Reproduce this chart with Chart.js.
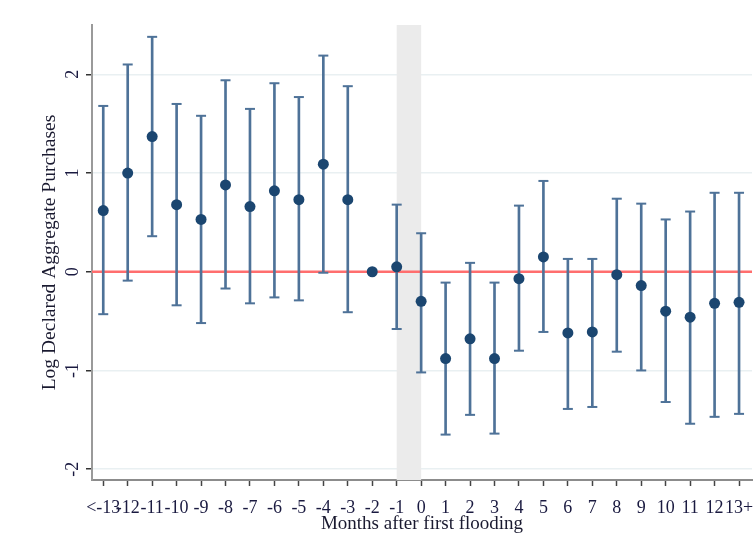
<!DOCTYPE html>
<html>
<head>
<meta charset="utf-8">
<script src="https://cdn.jsdelivr.net/npm/chart.js@4/dist/chart.umd.min.js"></script>
<style>
  html, body { margin: 0; padding: 0; background: #ffffff; }
  #wrap { position: relative; width: 756px; height: 552px; }
</style>
</head>
<body>
<div id="wrap"><canvas id="c" width="756" height="552"></canvas></div>
<script>
// ---- data ----
const monthLabels = ["<-13","-12","-11","-10","-9","-8","-7","-6","-5","-4","-3","-2","-1",
                     "0","1","2","3","4","5","6","7","8","9","10","11","12","13+"];
const estimates = [0.62, 1.00, 1.37, 0.68, 0.53, 0.88, 0.66, 0.82, 0.73, 1.09, 0.73, 0.00, 0.05,
                   -0.30, -0.88, -0.68, -0.88, -0.07, 0.15, -0.62, -0.61, -0.03, -0.14, -0.40, -0.46, -0.32, -0.31];
const ciUpper  = [1.68, 2.10, 2.38, 1.70, 1.58, 1.94, 1.65, 1.91, 1.77, 2.19, 1.88, null, 0.68,
                   0.39, -0.11, 0.09, -0.11, 0.67, 0.92, 0.13, 0.13, 0.74, 0.69, 0.53, 0.61, 0.80, 0.80];
const ciLower  = [-0.43, -0.09, 0.36, -0.34, -0.52, -0.17, -0.32, -0.26, -0.29, -0.01, -0.41, null, -0.58,
                   -1.02, -1.65, -1.45, -1.64, -0.80, -0.61, -1.39, -1.37, -0.81, -1.00, -1.32, -1.54, -1.47, -1.44];
const yTickValues = [-2, -1, 0, 1, 2];
const shadedFrom = 12;   // between month -1 ...
const shadedTo = 13;     // ... and month 0
const referenceValue = 0;

// ---- styling ----
const FONT = "'Liberation Serif', 'Times New Roman', serif";
const barColor = "#4e7298";
const pointColor = "#1b4670";

const idx = monthLabels.map((_, i) => i);

const pointData = idx.map(i => ({ x: i, y: estimates[i] }));
const rangeData = idx.filter(i => ciLower[i] !== null && ciUpper[i] !== null)
                     .map(i => ({ x: i, y: [ciLower[i], ciUpper[i]] }));
const capData = idx.filter(i => ciLower[i] !== null).map(i => ({ x: i, y: ciLower[i] }))
      .concat(idx.filter(i => ciUpper[i] !== null).map(i => ({ x: i, y: ciUpper[i] })));

const backgroundPlugin = {
  id: 'bgDecor',
  beforeDatasetsDraw(chart) {
    const { ctx, chartArea, scales } = chart;
    const x = scales.x, y = scales.y;
    ctx.save();
    // shaded band
    const x0 = x.getPixelForValue(shadedFrom), x1 = x.getPixelForValue(shadedTo);
    ctx.fillStyle = "#ebebeb";
    ctx.fillRect(x0, chartArea.top, x1 - x0, chartArea.bottom - chartArea.top);
    // reference line
    const y0 = y.getPixelForValue(referenceValue);
    ctx.strokeStyle = "#ff6e6e";
    ctx.lineWidth = 2.5;
    ctx.beginPath();
    ctx.moveTo(chartArea.left, y0);
    ctx.lineTo(chartArea.right, y0);
    ctx.stroke();
    ctx.restore();
  }
};

new Chart(document.getElementById('c'), {
  type: 'scatter',
  data: {
    datasets: [
      {
        type: 'scatter',
        data: pointData,
        pointRadius: 5.5,
        pointHoverRadius: 5.5,
        backgroundColor: pointColor,
        borderWidth: 0
      },
      {
        type: 'scatter',
        data: capData,
        pointStyle: 'line',
        pointRadius: 5,
        pointHoverRadius: 5,
        borderColor: barColor,
        borderWidth: 2
      },
      {
        type: 'bar',
        data: rangeData,
        barThickness: 2,
        backgroundColor: barColor,
        borderWidth: 0,
        grouped: false
      }
    ]
  },
  options: {
    responsive: false,
    animation: false,
    events: [],
    layout: { autoPadding: false, padding: { left: 0, right: 4, top: 25, bottom: 0 } },
    plugins: { legend: { display: false }, tooltip: { enabled: false } },
    scales: {
      x: {
        type: 'linear',
        offset: false,
        min: -0.46,
        max: 26.53,
        afterFit(scale) { scale.height = 72; scale.paddingLeft = 0; scale.paddingRight = 0; },
        ticks: {
          stepSize: 1,
          includeBounds: false,
          autoSkip: false,
          maxRotation: 0,
          minRotation: 0,
          padding: 11,
          color: '#1a1a40',
          font: { family: FONT, size: 18 },
          callback: (v) => (Number.isInteger(v) ? monthLabels[v] : '')
        },
        grid: { offset: false, drawOnChartArea: false, tickLength: 6, tickColor: '#444', tickWidth: 1.5 },
        border: { color: '#8c8c8c', width: 2 },
        title: {
          display: true,
          text: 'Months after first flooding',
          color: '#1a1a30',
          font: { family: FONT, size: 19 },
          padding: { top: 0, bottom: 16.5 }
        }
      },
      y: {
        type: 'linear',
        min: -2.11,
        max: 2.5,
        afterFit(scale) { scale.width = 92; scale.paddingTop = 0; scale.paddingBottom = 0; },
        afterBuildTicks(scale) { scale.ticks = yTickValues.map(v => ({ value: v })); },
        ticks: {
          minRotation: 90,
          maxRotation: 90,
          crossAlign: 'center',
          padding: 5,
          color: '#1a1a40',
          font: { family: FONT, size: 18 }
        },
        grid: { color: '#e9f0f2', lineWidth: 1.5, tickLength: 6, tickColor: '#333', tickWidth: 1.5 },
        border: { color: '#9a9a9a', width: 2 },
        title: {
          display: true,
          text: 'Log Declared Aggregate Purchases',
          color: '#1a1a30',
          font: { family: FONT, size: 19.5 },
          padding: { top: 38, bottom: 0 }
        }
      }
    }
  },
  plugins: [backgroundPlugin]
});
</script>
</body>
</html>
